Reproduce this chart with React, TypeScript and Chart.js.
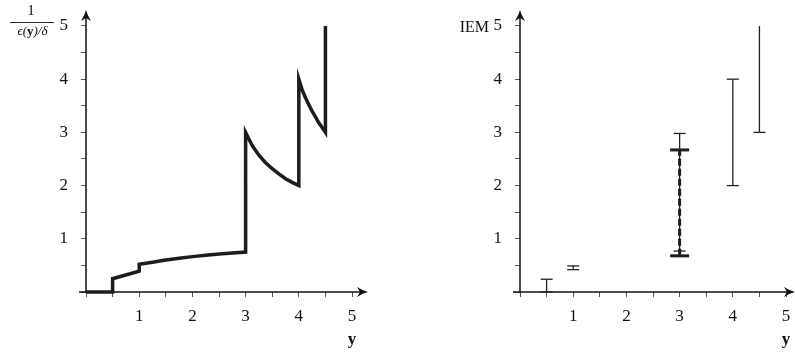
import React, { useEffect, useRef } from "react";
import { Chart, registerables } from "chart.js";
Chart.register(...registerables);

// ---------- data ----------
const curveX = [0, 0.5, 0.5, 1, 1, 1.25, 1.5, 1.75, 2, 2.25, 2.5, 2.75, 3, 3, 3.125, 3.25, 3.375, 3.5, 3.625, 3.75, 3.875, 4, 4, 4.0625, 4.125, 4.1875, 4.25, 4.3125, 4.375, 4.4375, 4.5, 4.5];
const curveY = [0, 0, 0.25, 0.39, 0.52, 0.56, 0.6, 0.635, 0.665, 0.69, 0.715, 0.735, 0.75, 3.0, 2.75, 2.57, 2.43, 2.32, 2.22, 2.13, 2.06, 2.0, 4.0, 3.8, 3.65, 3.52, 3.4, 3.29, 3.18, 3.09, 3.0, 5.0];

const intervalX = [0.5, 1, 3, 4, 4.5];
const intervalLow = [0, 0.42, 0.77, 2.0, 3.0];
const intervalHigh = [0.24, 0.49, 2.98, 4.0, 5.0];
const intervalTopCap = [true, true, true, true, false];

const dashedX = [3];
const dashedLow = [0.68];
const dashedHigh = [2.67];

const xTickValues = [0, 0.5, 1, 1.5, 2, 2.5, 3, 3.5, 4, 4.5, 5];
const xTickLabels = ["", "", "1", "", "2", "", "3", "", "4", "", "5"];
const yTickValues = [0, 0.5, 1, 1.5, 2, 2.5, 3, 3.5, 4, 4.5, 5];
const yTickLabels = ["", "", "1", "", "2", "", "3", "", "4", "", "5"];

const xTitle = "y";
const leftNumerator = "1";
const leftDenominator = ["ϵ(", "y", ")/δ"];
const rightTitle = "IEM";

const AXIS_MAX = 5.3;
const FONT = "'Liberation Serif', 'DejaVu Serif', serif";
Chart.defaults.font.family = FONT;

function arrow(ctx: CanvasRenderingContext2D, tx: number, ty: number, angle: number) {
  ctx.save();
  ctx.translate(tx, ty);
  ctx.rotate(angle);
  ctx.beginPath();
  ctx.moveTo(0, 0);
  ctx.quadraticCurveTo(-5, 1.2, -11, 5);
  ctx.lineTo(-8, 0);
  ctx.lineTo(-11, -5);
  ctx.quadraticCurveTo(-5, -1.2, 0, 0);
  ctx.closePath();
  ctx.fill();
  ctx.restore();
}

function makeAxesPlugin(drawTitle: (ctx: CanvasRenderingContext2D, chart: any) => void) {
  return {
    id: "texAxes",
    beforeDatasetsDraw(chart: any) {
      const { ctx } = chart;
      const xs = chart.scales.x;
      const ys = chart.scales.y;
      const x0 = xs.getPixelForValue(0);
      const y0 = ys.getPixelForValue(0);
      ctx.save();
      ctx.strokeStyle = "#111";
      ctx.fillStyle = "#111";
      ctx.lineWidth = 1.5;
      ctx.beginPath();
      ctx.moveTo(x0 - 7, y0);
      ctx.lineTo(xs.right - 5, y0);
      ctx.stroke();
      ctx.beginPath();
      ctx.moveTo(x0, y0);
      ctx.lineTo(x0, ys.top + 5);
      ctx.stroke();
      arrow(ctx, xs.right, y0, 0);
      arrow(ctx, x0, ys.top, -Math.PI / 2);
      ctx.restore();
    },
    afterDraw(chart: any) {
      const { ctx } = chart;
      const xs = chart.scales.x;
      ctx.save();
      ctx.fillStyle = "#111";
      ctx.font = `bold 17px ${FONT}`;
      ctx.textAlign = "center";
      ctx.textBaseline = "alphabetic";
      ctx.fillText(xTitle, xs.getPixelForValue(5), 344);
      drawTitle(ctx, chart);
      ctx.restore();
    },
  };
}

function drawLeftTitle(ctx: CanvasRenderingContext2D) {
  ctx.fillStyle = "#111";
  ctx.strokeStyle = "#111";
  ctx.textAlign = "center";
  ctx.textBaseline = "alphabetic";
  ctx.font = `15px ${FONT}`;
  ctx.fillText(leftNumerator, 31, 15);
  ctx.lineWidth = 0.9;
  ctx.beginPath();
  ctx.moveTo(10, 22.5);
  ctx.lineTo(54, 22.5);
  ctx.stroke();
  const fonts = [`italic 13px ${FONT}`, `bold 13px ${FONT}`, `italic 13px ${FONT}`];
  let total = 0;
  const widths = leftDenominator.map((s, i) => {
    ctx.font = fonts[i];
    const w = ctx.measureText(s).width;
    total += w;
    return w;
  });
  let x = 32.5 - total / 2;
  ctx.textAlign = "left";
  leftDenominator.forEach((s, i) => {
    ctx.font = fonts[i];
    ctx.fillText(s, x, 35);
    x += widths[i];
  });
}

function drawRightTitle(ctx: CanvasRenderingContext2D) {
  ctx.fillStyle = "#111";
  ctx.font = `16px ${FONT}`;
  ctx.textAlign = "right";
  ctx.textBaseline = "alphabetic";
  ctx.fillText(rightTitle, 89, 32);
}

function scales(yWidth: number, xMax: number) {
  return {
    x: {
      type: "linear" as const,
      min: 0,
      max: xMax,
      afterBuildTicks: (s: any) => {
        s.ticks = xTickValues.map((v) => ({ value: v }));
      },
      afterFit: (s: any) => {
        s.height = 62;
        s.paddingLeft = 0;
        s.paddingRight = 0;
        s.paddingTop = 0;
        s.paddingBottom = 0;
      },
      ticks: {
        autoSkip: false,
        maxRotation: 0,
        padding: 9,
        color: "#111",
        font: { size: 17 },
        callback: (_v: any, i: number) => xTickLabels[i],
      },
      grid: { drawOnChartArea: false, drawTicks: true, tickLength: 5, color: "#555", lineWidth: 1 },
      border: { display: false },
    },
    y: {
      type: "linear" as const,
      min: 0,
      max: AXIS_MAX,
      afterBuildTicks: (s: any) => {
        s.ticks = yTickValues.map((v) => ({ value: v }));
      },
      afterFit: (s: any) => {
        s.width = yWidth;
        s.paddingLeft = 0;
        s.paddingRight = 0;
        s.paddingTop = 0;
        s.paddingBottom = 0;
      },
      ticks: {
        autoSkip: false,
        padding: 13,
        color: "#111",
        font: { size: 17 },
        callback: (_v: any, i: number) => yTickLabels[i],
      },
      grid: { drawOnChartArea: false, drawTicks: true, tickLength: 5, color: "#555", lineWidth: 1 },
      border: { display: false },
    },
  };
}

function LeftChart() {
  const ref = useRef<HTMLCanvasElement>(null);
  useEffect(() => {
    const chart = new Chart(ref.current!, {
      type: "line",
      data: {
        datasets: [
          {
            data: curveX.map((x, i) => ({ x, y: curveY[i] })),
            borderColor: "#1c1c1c",
            borderWidth: 3.5,
            pointRadius: 0,
            tension: 0,
            borderJoinStyle: "miter",
            clip: false as any,
          },
        ],
      },
      options: {
        animation: false,
        responsive: false,
        devicePixelRatio: 1,
        layout: { autoPadding: false, padding: { left: 0, right: 32, top: 10, bottom: 0 } },
        plugins: { legend: { display: false }, tooltip: { enabled: false } },
        scales: scales(86, AXIS_MAX) as any,
      },
      plugins: [makeAxesPlugin((ctx) => drawLeftTitle(ctx))],
    });
    return () => chart.destroy();
  }, []);
  return <canvas ref={ref} width={400} height={354} style={{ position: "absolute", left: 0, top: 0 }} />;
}

function RightChart() {
  const ref = useRef<HTMLCanvasElement>(null);
  useEffect(() => {
    const datasets: any[] = [];
    dashedX.forEach((x, i) => {
      datasets.push({
        data: [
          { x, y: dashedLow[i] },
          { x, y: dashedHigh[i] },
        ],
        borderColor: "#1c1c1c",
        borderWidth: 3,
        borderDash: [7, 3],
        pointStyle: "line",
        pointRadius: 9.5,
        pointBorderWidth: 3,
        pointBorderColor: "#1c1c1c",
        clip: false,
      });
    });
    intervalX.forEach((x, i) => {
      datasets.push({
        data: [
          { x, y: intervalLow[i] },
          { x, y: intervalHigh[i] },
        ],
        borderColor: "#222",
        borderWidth: 1.3,
        pointStyle: "line",
        pointRadius: [6, intervalTopCap[i] ? 6 : 0],
        pointBorderWidth: 1.3,
        pointBorderColor: "#222",
        clip: false,
      });
    });
    const chart = new Chart(ref.current!, {
      type: "line",
      data: { datasets },
      options: {
        animation: false,
        responsive: false,
        devicePixelRatio: 1,
        layout: { autoPadding: false, padding: { left: 0, right: 0, top: 10, bottom: 0 } },
        plugins: { legend: { display: false }, tooltip: { enabled: false } },
        scales: scales(120, 275 / (282 / AXIS_MAX)) as any,
      },
      plugins: [makeAxesPlugin((ctx) => drawRightTitle(ctx))],
    });
    return () => chart.destroy();
  }, []);
  return <canvas ref={ref} width={395} height={354} style={{ position: "absolute", left: 400, top: 0 }} />;
}

export default function App() {
  return (
    <div style={{ position: "absolute", left: 0, top: 0, width: 795, height: 354, background: "#fff", overflow: "hidden" }}>
      <LeftChart />
      <RightChart />
    </div>
  );
}
